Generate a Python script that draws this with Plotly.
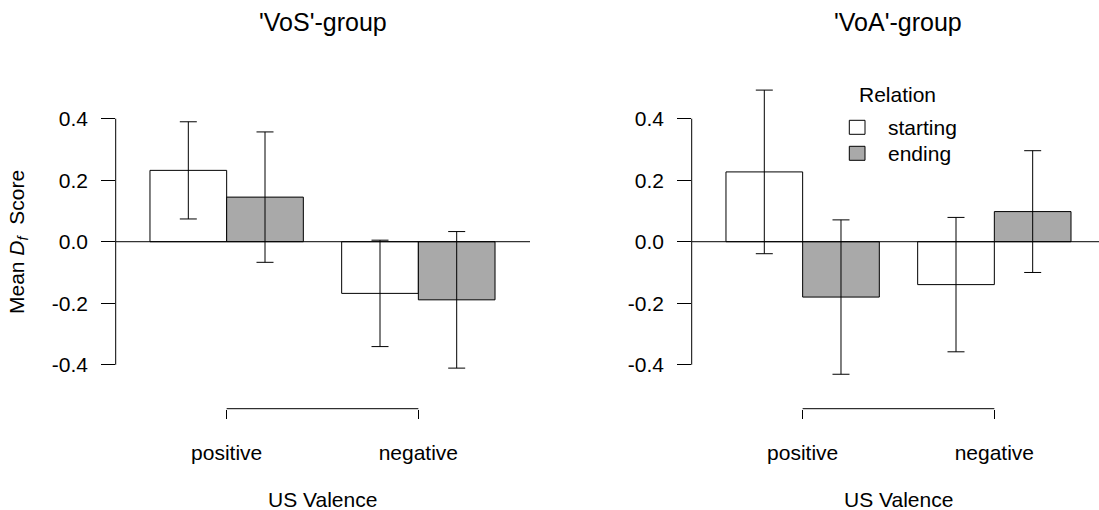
import plotly.graph_objects as go

# ---- data ----
valence = ["positive", "negative"]
relations = ["starting", "ending"]
panels = ["'VoS'-group", "'VoA'-group"]

vos_starting = [0.232, -0.168]
vos_ending = [0.145, -0.189]
vos_starting_err = [0.158, 0.173]
vos_ending_err = [0.212, 0.222]

voa_starting = [0.227, -0.1395]
voa_ending = [-0.180, 0.098]
voa_starting_err = [0.266, 0.2185]
voa_ending_err = [0.251, 0.198]

y_ticks = [-0.4, -0.2, 0.0, 0.2, 0.4]
y_tick_labels = ["-0.4", "-0.2", "0.0", "0.2", "0.4"]

fill_colors = ["#FFFFFF", "#A9A9A9"]

# ---- layout helpers ----
W, H = 1099, 510
FONT = "Liberation Sans, Arial, Helvetica, sans-serif"
FS = 21
gap = 0.5
group_centers = [i * (2 + gap) + 1.0 for i in range(len(valence))]

def px_x(p):
    return p / W

def px_y(p):
    return 1 - p / H

fig = go.Figure()

panel_data = [
    (vos_starting, vos_ending, vos_starting_err, vos_ending_err),
    (voa_starting, voa_ending, voa_starting_err, voa_ending_err),
]

for k, (st, en, st_e, en_e) in enumerate(panel_data):
    xa = "x" if k == 0 else "x2"
    ya = "y" if k == 0 else "y2"
    for j, (vals, errs) in enumerate([(st, st_e), (en, en_e)]):
        xs = [c - 0.5 + j for c in group_centers]
        fig.add_trace(go.Bar(
            x=xs, y=vals, width=1.0,
            marker=dict(color=fill_colors[j], line=dict(color="black", width=1)),
            error_y=dict(type="data", array=errs, visible=True, color="black",
                         thickness=1, width=8.5),
            xaxis=xa, yaxis=ya, showlegend=False, name=relations[j],
        ))

y_dom = [(H - 408.7) / H, 1.0]
y_rng = [-0.543, 0.786]

common_x = dict(showgrid=False, zeroline=False, showline=False,
                tickmode="array", tickvals=group_centers, ticktext=valence,
                ticks="outside", ticklen=9.5, tickwidth=1, tickcolor="black",
                tickfont=dict(family=FONT, size=FS, color="black"),
                ticklabelstandoff=16, fixedrange=True)
common_y = dict(showgrid=False, zeroline=False, showline=False, range=y_rng,
                domain=y_dom, tickmode="array", tickvals=y_ticks,
                ticktext=y_tick_labels, ticks="outside", ticklen=13.5,
                tickwidth=1, tickcolor="black",
                tickfont=dict(family=FONT, size=FS, color="black"),
                ticklabelstandoff=9, fixedrange=True)

fig.update_layout(
    width=W, height=H,
    margin=dict(l=0, r=0, t=0, b=0),
    paper_bgcolor="white", plot_bgcolor="rgba(0,0,0,0)",
    barmode="overlay",
    xaxis=dict(domain=[px_x(115.7), px_x(530)], range=[-0.447, 4.956],
               anchor="y", **common_x),
    yaxis=dict(anchor="x", **common_y),
    xaxis2=dict(domain=[px_x(691.7), 1.0], range=[-0.447, 4.865],
                anchor="y2", **common_x),
    yaxis2=dict(anchor="x2", **common_y),
    font=dict(family=FONT, size=FS, color="black"),
)

shapes = []
annotations = []
for k in range(2):
    xa = "x" if k == 0 else "x2"
    ya = "y" if k == 0 else "y2"
    # y-axis line spanning tick range
    shapes.append(dict(type="line", xref=f"{xa} domain", yref=ya,
                       x0=0, x1=0, y0=y_ticks[0], y1=y_ticks[-1],
                       line=dict(color="black", width=1)))
    # zero reference line
    shapes.append(dict(type="line", xref=f"{xa} domain", yref=ya,
                       x0=0, x1=1, y0=0, y1=0,
                       line=dict(color="black", width=1)))
    # x axis bracket line between group centres
    shapes.append(dict(type="line", xref=xa, yref=f"{ya} domain",
                       x0=group_centers[0], x1=group_centers[-1], y0=0, y1=0,
                       line=dict(color="black", width=1)))
    mid = sum(group_centers) / len(group_centers)
    annotations.append(dict(text=panels[k], xref=xa, yref="paper",
                            x=mid, y=px_y(22), showarrow=False,
                            xanchor="center", yanchor="middle",
                            font=dict(family=FONT, size=25, color="black")))
    annotations.append(dict(text="US Valence", xref=xa, yref="paper",
                            x=mid, y=px_y(499), showarrow=False,
                            xanchor="center", yanchor="middle",
                            font=dict(family=FONT, size=FS, color="black")))

annotations.append(dict(text="Mean <i>D</i><sub><i>f</i></sub>  Score",
                        xref="paper", yref="paper", x=px_x(18), y=px_y(242),
                        textangle=-90, showarrow=False, xanchor="center",
                        yanchor="middle",
                        font=dict(family=FONT, size=FS, color="black")))

# legend (manual, R style)
annotations.append(dict(text="Relation", xref="paper", yref="paper",
                        x=px_x(898), y=px_y(94), showarrow=False,
                        xanchor="center", yanchor="middle",
                        font=dict(family=FONT, size=FS, color="black")))
leg_rows = [127.3, 153.3]
for j, rel in enumerate(relations):
    yc = leg_rows[j]
    shapes.append(dict(type="rect", xref="paper", yref="paper",
                       x0=px_x(849.3), x1=px_x(865), y0=px_y(yc - 7),
                       y1=px_y(yc + 7), fillcolor=fill_colors[j],
                       line=dict(color="black", width=1)))
    annotations.append(dict(text=rel, xref="paper", yref="paper",
                            x=px_x(885.7), y=px_y(yc), showarrow=False,
                            xanchor="left", yanchor="middle",
                            font=dict(family=FONT, size=FS, color="black")))

fig.update_layout(shapes=shapes, annotations=annotations)
fig.write_html("out.html")
